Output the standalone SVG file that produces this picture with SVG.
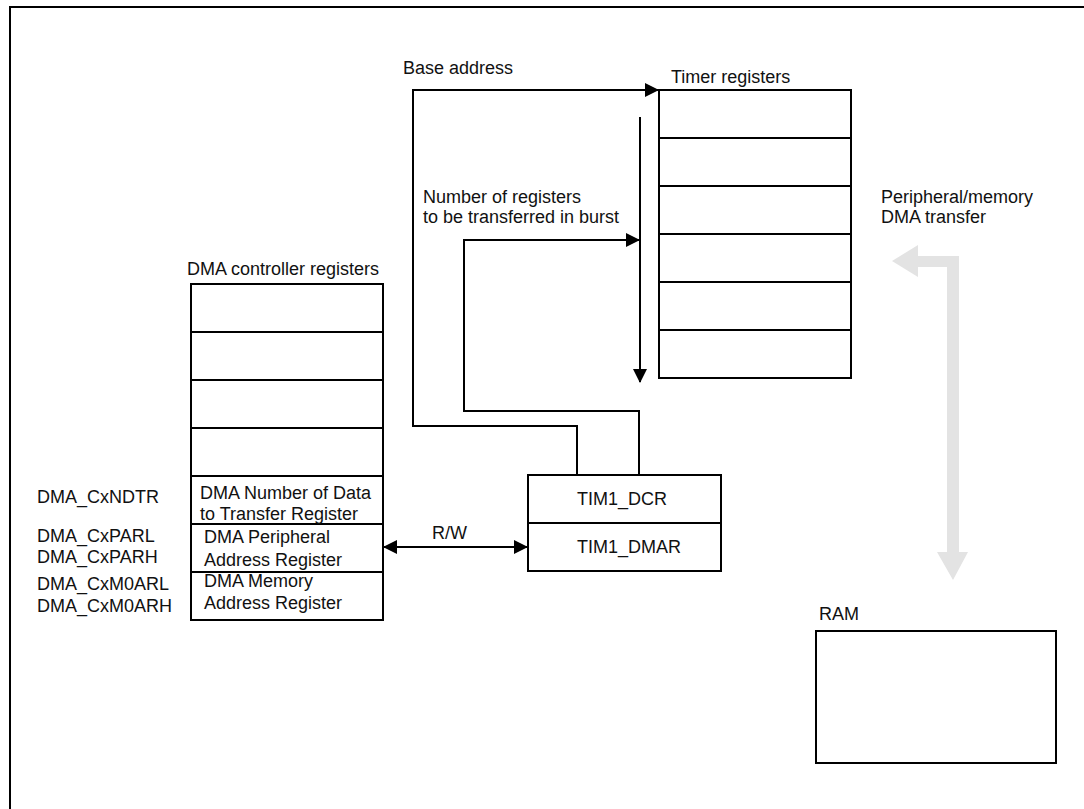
<svg xmlns="http://www.w3.org/2000/svg" width="1084" height="809" viewBox="0 0 1084 809">
<style>
text{font-family:"Liberation Sans",Arial,sans-serif;font-size:18px;fill:#111}
.box{fill:#fff;stroke:#000;stroke-width:2}
.ln{fill:none;stroke:#000;stroke-width:2}
</style>
<defs>
<marker id="ah" markerWidth="14" markerHeight="14" refX="13" refY="7" orient="auto" markerUnits="userSpaceOnUse">
<path d="M0,0 L14,7 L0,14 Z" fill="#000"/>
</marker>
<marker id="ahs" markerWidth="14" markerHeight="14" refX="13" refY="7" orient="auto-start-reverse" markerUnits="userSpaceOnUse">
<path d="M0,0 L14,7 L0,14 Z" fill="#000"/>
</marker>
</defs>
<rect width="1084" height="809" fill="#fff"/>
<path class="ln" d="M10,809 V7 H1084" stroke-width="2.5"/>

<g id="dma-controller">
<text x="187" y="275">DMA controller registers</text>
<rect class="box" x="191" y="284" width="192" height="336"/>
<path class="ln" d="M191,332H383M191,380H383M191,428H383M191,476H383M191,524H383M191,572H383"/>
<text x="200" y="499">DMA Number of Data</text>
<text x="200" y="520">to Transfer Register</text>
<text x="204" y="543">DMA Peripheral</text>
<text x="204" y="566">Address Register</text>
<text x="204" y="587">DMA Memory</text>
<text x="204" y="609">Address Register</text>
</g>

<g id="dma-labels">
<text x="37" y="503">DMA_CxNDTR</text>
<text x="37" y="542">DMA_CxPARL</text>
<text x="37" y="563">DMA_CxPARH</text>
<text x="37" y="590">DMA_CxM0ARL</text>
<text x="37" y="612">DMA_CxM0ARH</text>
</g>

<g id="timer-registers">
<text x="671" y="83">Timer registers</text>
<rect class="box" x="659" y="90" width="192" height="288"/>
<path class="ln" d="M659,138H851M659,186H851M659,234H851M659,282H851M659,330H851"/>
</g>

<g id="tim1">
<rect class="box" x="528" y="475" width="193" height="96"/>
<path class="ln" d="M528,523H721"/>
<text x="577" y="505">TIM1_DCR</text>
<text x="577" y="553">TIM1_DMAR</text>
</g>

<g id="ram">
<text x="819" y="620">RAM</text>
<rect class="box" x="816" y="631" width="240" height="132"/>
</g>

<g id="transfer">
<path d="M892,261 L918,245 L918,256 L959,256 L959,552 L968,552 L953,580 L937,552 L947,552 L947,267 L918,267 L918,277 Z" fill="#e3e3e3"/>
<text x="881" y="203">Peripheral/memory</text>
<text x="881" y="223">DMA transfer</text>
</g>

<g id="connectors">
<path class="ln" d="M577,475 V426 H413 V90 H658" marker-end="url(#ah)"/>
<path class="ln" d="M639,475 V411 H464 V240 H639" marker-end="url(#ah)"/>
<path class="ln" d="M640,117 V382" marker-end="url(#ah)"/>
<path class="ln" d="M384,547 H527" marker-start="url(#ahs)" marker-end="url(#ah)"/>
<text x="403" y="74">Base address</text>
<text x="423" y="203">Number of registers</text>
<text x="423" y="223">to be transferred in burst</text>
<text x="432" y="539">R/W</text>
</g>
</svg>
